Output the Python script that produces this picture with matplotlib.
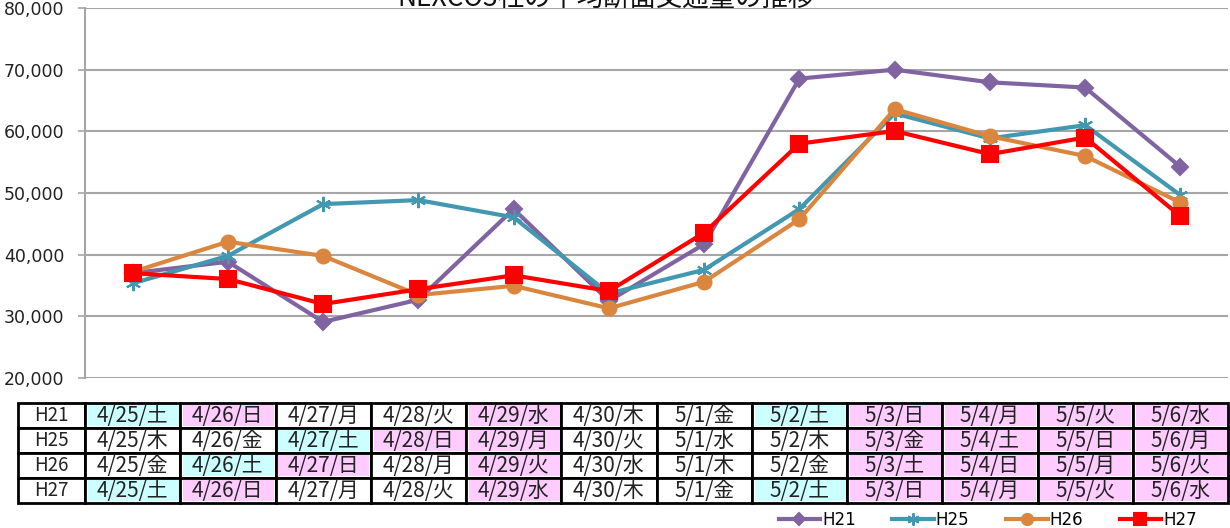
import matplotlib.pyplot as plt
import matplotlib.transforms as mtransforms
from matplotlib.patches import Rectangle
from matplotlib.lines import Line2D

plt.rcParams['font.family'] = ['DejaVu Sans', 'Noto Sans CJK JP']

# data
series_names = ['H21', 'H25', 'H26', 'H27']
h21 = [37000, 38850, 29100, 32700, 47400, 32500, 41700, 68550, 70000, 67950, 67100, 54250]
h25 = [35350, 39800, 48200, 48850, 46050, 33700, 37550, 47400, 62900, 58850, 61000, 49650]
h26 = [37200, 42100, 39800, 33450, 34950, 31300, 35600, 45750, 63600, 59200, 56000, 48450]
h27 = [37000, 36050, 32000, 34400, 36650, 34100, 43550, 58000, 60050, 56300, 59000, 46250]

dates_h21 = ['4/25/土', '4/26/日', '4/27/月', '4/28/火', '4/29/水', '4/30/木',
             '5/1/金', '5/2/土', '5/3/日', '5/4/月', '5/5/火', '5/6/水']
dates_h25 = ['4/25/木', '4/26/金', '4/27/土', '4/28/日', '4/29/月', '4/30/火',
             '5/1/水', '5/2/木', '5/3/金', '5/4/土', '5/5/日', '5/6/月']
dates_h26 = ['4/25/金', '4/26/土', '4/27/日', '4/28/月', '4/29/火', '4/30/水',
             '5/1/木', '5/2/金', '5/3/土', '5/4/日', '5/5/月', '5/6/火']
dates_h27 = ['4/25/土', '4/26/日', '4/27/月', '4/28/火', '4/29/水', '4/30/木',
             '5/1/金', '5/2/土', '5/3/日', '5/4/月', '5/5/火', '5/6/水']
holidays = ['4/29', '5/3', '5/4', '5/5', '5/6']

values = [h21, h25, h26, h27]
table_rows = [dates_h21, dates_h25, dates_h26, dates_h27]
colors = ['#8064A2', '#4298B0', '#DA863F', '#FF0000']
markers = ['D', (6, 2, 0), 'o', 's']
msizes = [8, 11, 10, 11]

fig = plt.figure(figsize=(12.3, 5.28), dpi=100)
ax = fig.add_axes([85 / 1230, 1 - 378 / 528, 1143 / 1230, 370 / 528])

x = list(range(len(h21)))
for vals, name, c, m, ms in zip(values, series_names, colors, markers, msizes):
    ax.plot(x, vals, color=c, lw=3, marker=m, ms=ms, mew=1.5,
            mec=c, mfc=c, label=name, zorder=3)

ax.set_xlim(-0.5, len(x) - 0.5)
ax.set_ylim(20000, 80000)
ax.set_yticks(range(20000, 80001, 10000))
ax.set_yticklabels([f'{v:,}' for v in range(20000, 80001, 10000)], fontsize=12.5, color='#222222')
ax.set_xticks([])
ax.grid(axis='y', color='#A6A6A6', lw=1.5)
ax.tick_params(axis='y', length=5, width=1.2, color='#A6A6A6', pad=10)
for s in ['top', 'right', 'bottom']:
    ax.spines[s].set_visible(False)
ax.spines['left'].set_color('#A6A6A6')
ax.spines['left'].set_linewidth(1.5)

# title is partly off the top edge, as in the original
fig.text(0.493, 1 - 6 / 528, 'NEXCO3社の平均断面交通量の推移', ha='center', va='baseline',
         fontsize=19, family=['Noto Sans CJK JP'], color='#111111')

# date table under the plot
trans = mtransforms.blended_transform_factory(ax.transData, ax.transAxes)
row_top = -0.068
row_h = 0.0675
head_left = -0.5 + (18 - 85) / 95.25
for r, (name, row) in enumerate(zip(series_names, table_rows)):
    y0 = row_top - (r + 1) * row_h
    ax.add_patch(Rectangle((head_left, y0), -0.5 - head_left, row_h, transform=trans,
                           fc='white', ec='black', lw=2, clip_on=False, zorder=4))
    ax.text((head_left - 0.5) / 2, y0 + row_h / 2, name, transform=trans, ha='center',
            va='center', fontsize=13.5, family=['Noto Sans CJK JP'], color='#222222',
            clip_on=False, zorder=6)
    for i, lab in enumerate(row):
        md = lab.rsplit('/', 1)[0]
        if md in holidays or lab.endswith('日'):
            fc = '#FFCCFF'
        elif lab.endswith('土'):
            fc = '#CCFFFF'
        else:
            fc = 'white'
        ax.add_patch(Rectangle((i - 0.5, y0), 1, row_h, transform=trans,
                               fc='white', ec='black', lw=2, clip_on=False, zorder=4))
        ax.add_patch(Rectangle((i - 0.5 + 0.03, y0 + 0.006), 0.955, row_h - 0.01,
                               transform=trans, fc=fc, ec='none', clip_on=False, zorder=5))
        ax.text(i, y0 + row_h / 2, lab, transform=trans, ha='center', va='center',
                fontsize=15, family=['Noto Sans CJK JP'], color='#222222',
                clip_on=False, zorder=6)

handles = [Line2D([], [], color=c, lw=3, marker=m, ms=ms * 0.8, mec=c, mfc=c, mew=1.5)
           for c, m, ms in zip(colors, markers, msizes)]
fig.legend(handles, series_names, loc='lower right', bbox_to_anchor=(0.985, -0.03),
           ncol=4, frameon=False, fontsize=12, handlelength=2.5, handletextpad=0.1,
           columnspacing=2.2)

fig.savefig('out.png', dpi=100)
